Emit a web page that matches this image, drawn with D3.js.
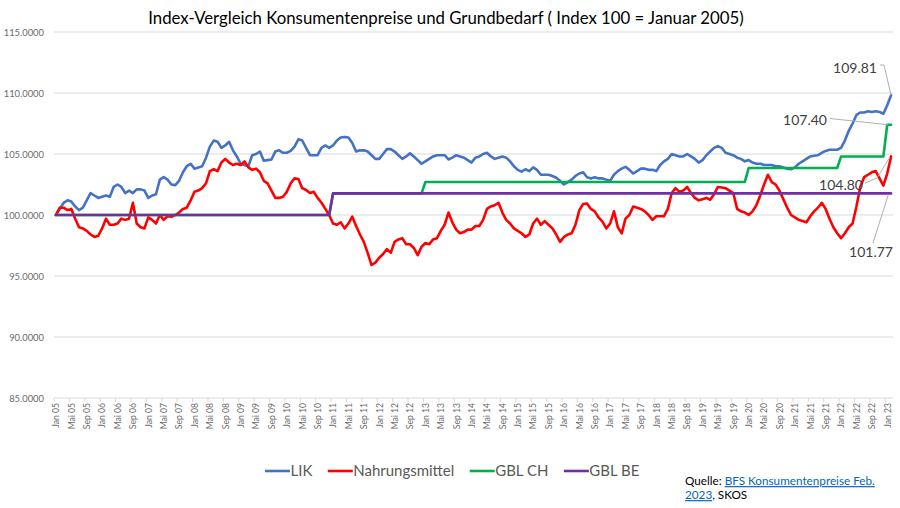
<!DOCTYPE html>
<html>
<head>
<meta charset="utf-8">
<script src="https://cdn.jsdelivr.net/npm/d3@7"></script>
<style>
  html, body { margin: 0; padding: 0; background: #fff; }
  svg { display: block; font-family: Lato, "Open Sans", sans-serif; }
</style>
</head>
<body>
<svg id="chart" width="900" height="508"></svg>
<script>
// ---------- DATA ----------
const monthNames = ["Jan","Feb","Mär","Apr","Mai","Jun","Jul","Aug","Sep","Okt","Nov","Dez"];
const years = [2005,2006,2007,2008,2009,2010,2011,2012,2013,2014,2015,2016,2017,2018,2019,2020,2021,2022,2023];
const lastMonthIndex2023 = 1; // data runs to Feb 2023

// Landesindex der Konsumentenpreise (Jan 2005 = 100), monthly Jan 05 – Feb 23
const lik = [
100.0,100.5,101.0,101.2,101.1,100.7,100.4,100.6,101.2,101.8,101.6,101.4,
101.5,101.6,101.5,102.3,102.5,102.3,101.8,102.0,101.8,102.1,102.1,102.0,
101.4,101.6,101.7,102.9,103.1,102.9,102.5,102.45,102.8,103.5,104.0,104.2,
103.8,103.9,104.0,104.7,105.6,106.1,106.0,105.5,105.7,106.0,105.3,104.8,
104.2,104.1,104.0,104.9,105.0,105.2,104.45,104.5,104.55,105.2,105.3,105.1,
105.1,105.25,105.6,106.2,106.1,105.5,104.9,104.9,104.9,105.5,105.7,105.5,
105.7,106.1,106.35,106.4,106.35,105.9,105.2,105.3,105.3,105.2,104.9,104.6,
104.6,105.0,105.4,105.4,105.2,104.9,104.6,104.8,105.05,104.8,104.5,104.2,
104.4,104.6,104.8,104.9,104.9,104.9,104.55,104.7,104.9,104.8,104.7,104.5,
104.3,104.7,104.8,105.0,105.1,104.8,104.6,104.7,104.8,104.7,104.4,104.0,
103.7,103.55,103.75,103.6,103.9,103.7,103.3,103.3,103.3,103.2,103.05,102.8,
102.5,102.7,102.9,103.2,103.4,103.5,103.1,103.0,103.1,103.0,103.0,102.9,
102.8,103.3,103.6,103.8,103.95,103.7,103.4,103.6,103.8,103.8,103.7,103.7,
103.6,104.1,104.4,104.6,105.0,104.9,104.8,104.8,105.0,104.8,104.6,104.3,
104.5,104.9,105.2,105.5,105.65,105.5,105.1,105.0,104.9,104.7,104.6,104.4,
104.5,104.3,104.2,104.2,104.1,104.1,104.1,104.0,104.0,103.9,103.8,103.75,
103.9,104.2,104.4,104.6,104.8,104.85,104.9,105.1,105.25,105.35,105.35,105.35,
105.5,106.1,106.9,107.5,108.2,108.4,108.4,108.5,108.45,108.5,108.45,108.3,
109.0,109.81
];

// Nahrungsmittel-Index (Jan 2005 = 100), monthly Jan 05 – Feb 23
const nahrungsmittel = [
100.0,100.6,100.6,100.4,100.5,99.7,99.0,98.9,98.7,98.4,98.2,98.3,
98.9,99.7,99.2,99.2,99.3,99.7,99.6,99.7,101.0,99.3,99.0,98.9,
99.8,99.6,99.3,100.0,99.6,99.9,99.85,100.0,100.2,100.5,100.6,101.2,
101.9,102.0,102.2,102.6,103.6,103.75,103.6,104.3,104.6,104.3,104.1,104.2,
104.1,104.4,103.9,103.7,103.8,103.5,102.8,102.6,102.0,101.4,101.4,101.5,
101.9,102.6,103.0,102.95,102.2,102.05,101.8,101.9,101.4,101.0,100.5,100.0,
99.3,99.2,99.4,98.9,99.3,99.86,99.1,98.4,97.8,96.9,95.9,96.1,
96.5,96.8,97.2,96.9,97.8,98.0,98.1,97.6,97.6,97.3,96.7,97.4,
97.7,97.6,98.0,98.1,98.7,99.2,100.2,99.4,98.8,98.5,98.6,98.8,
98.8,99.1,99.1,99.6,100.5,100.7,100.8,101.0,100.2,99.6,99.3,98.9,
98.7,98.5,98.2,98.4,99.3,99.7,99.2,99.5,99.2,98.9,98.4,97.8,
98.2,98.4,98.5,99.2,100.4,100.9,100.95,100.5,100.3,99.8,99.45,98.9,
99.3,100.3,99.0,98.5,99.7,100.0,100.7,100.6,100.5,100.3,100.0,99.6,
99.9,99.9,99.9,100.5,101.8,102.2,101.9,102.0,102.3,101.8,101.4,101.2,
101.3,101.4,101.25,101.7,102.3,102.25,102.2,102.0,101.8,100.5,100.3,100.2,
100.0,100.3,100.8,101.6,102.5,103.3,102.7,102.5,102.0,101.3,100.6,100.0,
99.8,99.6,99.5,99.4,99.9,100.3,100.6,101.0,100.5,99.7,99.0,98.5,
98.1,98.5,99.0,99.3,100.7,102.3,103.1,103.3,103.5,103.6,103.0,102.4,
103.4,104.8
];

// Grundbedarf für den Lebensunterhalt, indexed, one value per year (2005..2023)
const gblCH = [100,100,100,100,100,100,101.77,101.77,102.71,102.71,102.71,102.71,102.71,102.71,102.71,103.85,103.85,104.79,107.40];
const gblBE = [100,100,100,100,100,100,101.77,101.77,101.77,101.77,101.77,101.77,101.77,101.77,101.77,101.77,101.77,101.77,101.77];

const yTicks = [85,90,95,100,105,110,115];
const seriesNames = ["LIK","Nahrungsmittel","GBL CH","GBL BE"];
const endLabels = ["109.81","104.80","107.40","101.77"]; // same order as seriesNames
const seriesColors = ["#4472C4","#FF0000","#00B050","#7030A0"];

// ---------- BUILD CATEGORIES ----------
const categories = [];
const yearOfCat = [];
years.forEach((yr, yi) => {
  const nMonths = (yr === 2023) ? lastMonthIndex2023 + 1 : 12;
  for (let m = 0; m < nMonths; m++) {
    categories.push(monthNames[m] + " " + String(yr).slice(2));
    yearOfCat.push(yi);
  }
});
const gblCHMonthly = categories.map((c, i) => gblCH[yearOfCat[i]]);
const gblBEMonthly = categories.map((c, i) => gblBE[yearOfCat[i]]);
const seriesValues = [lik, nahrungsmittel, gblCHMonthly, gblBEMonthly];

// ---------- LAYOUT ----------
const svg = d3.select("#chart");
const plotL = 54, plotR = 893, plotT = 32, plotB = 398;

const xScale = d3.scalePoint().domain(categories).range([plotL, plotR]).padding(0.5);
const yScale = d3.scaleLinear().domain([85, 115]).range([plotB, plotT]);
const step = xScale.step();

function fitText(sel, target) {
  const node = sel.node();
  const fs = parseFloat(sel.attr("font-size"));
  const w = node.getComputedTextLength();
  if (w > 0) sel.attr("font-size", (fs * target / w).toFixed(2));
}

// Title
const title = svg.append("text")
  .attr("x", 446).attr("y", 24)
  .attr("text-anchor", "middle")
  .attr("font-size", 16).attr("fill", "#000")
  .text("Index-Vergleich Konsumentenpreise und Grundbedarf ( Index 100 = Januar 2005)");
fitText(title, 596);

// Gridlines
svg.append("g").selectAll("line")
  .data(yTicks)
  .join("line")
  .attr("x1", plotL).attr("x2", plotR)
  .attr("y1", d => yScale(d)).attr("y2", d => yScale(d))
  .attr("stroke", "#d9d9d9").attr("stroke-width", 1);

// Y axis labels
const yAxis = d3.axisLeft(yScale).tickValues(yTicks).tickFormat(d3.format(".4f")).tickSize(0).tickPadding(6);
const gy = svg.append("g").attr("transform", `translate(${plotL - 4},0)`).call(yAxis);
gy.select(".domain").remove();
gy.selectAll("text").attr("font-family", "Lato, sans-serif").attr("font-size", 9.4).attr("fill", "#6b6b6b");

// X axis
const xAxis = d3.axisBottom(xScale)
  .tickValues(categories.filter((c, i) => i % 4 === 0))
  .tickSize(0).tickPadding(0);
const gx = svg.append("g").attr("transform", `translate(0,${plotB})`).call(xAxis);
gx.select(".domain").remove();
gx.selectAll("text")
  .attr("font-family", "Lato, sans-serif").attr("font-size", 8.6).attr("fill", "#6b6b6b")
  .attr("transform", "rotate(-90)")
  .attr("text-anchor", "end")
  .attr("x", -5).attr("y", 0).attr("dy", "0.33em");
// small tick marks at category boundaries
svg.append("g").selectAll("line")
  .data(categories.filter((c, i) => i % 4 === 0))
  .join("line")
  .attr("x1", d => xScale(d) - step / 2).attr("x2", d => xScale(d) - step / 2)
  .attr("y1", plotB).attr("y2", plotB + 4)
  .attr("stroke", "#d9d9d9").attr("stroke-width", 1);

// Lines
const lineGen = d3.line()
  .x((d, i) => xScale(categories[i]))
  .y(d => yScale(d));
const lineG = svg.append("g");
seriesValues.forEach((vals, k) => {
  lineG.append("path")
    .datum(vals)
    .attr("d", lineGen)
    .attr("fill", "none")
    .attr("stroke", seriesColors[k])
    .attr("stroke-width", 2.6)
    .attr("stroke-linejoin", "round")
    .attr("stroke-linecap", "round");
});

// End labels with leader lines
const lastCat = categories[categories.length - 1];
const ex = xScale(lastCat);
const endVals = seriesValues.map(v => v[v.length - 1]);
const lblG = svg.append("g");
const lblSpecs = [
  { k: 0, tx: 877, ty: 68, pts: [[880, 65], [884, 65], [ex, yScale(endVals[0])]] },
  { k: 2, tx: 827, ty: 120, pts: [[830, 118.5], [ex - 3, yScale(endVals[2])]] },
  { k: 1, tx: 863, ty: 185, pts: [[865, 183], [877, 178], [ex - 2, yScale(endVals[1]) + 2]] },
  { k: 3, tx: 893, ty: 252, pts: [[873, 243], [ex - 3, yScale(endVals[3]) + 2]] }
];
lblSpecs.forEach(s => {
  lblG.append("path")
    .attr("d", d3.line()(s.pts))
    .attr("fill", "none").attr("stroke", "#a6a6a6").attr("stroke-width", 0.9);
  const t = lblG.append("text")
    .attr("x", s.tx).attr("y", s.ty).attr("dy", "0.35em")
    .attr("text-anchor", "end")
    .attr("font-size", 14).attr("fill", "#404040")
    .text(endLabels[s.k]);
  fitText(t, 44);
});

// Legend
const legend = svg.append("g");
let lx = 265;
const ly = 471;
const probe = svg.append("text").attr("font-size", 14.5).text("Nahrungsmittel");
fitText(probe, 101);
const legendFont = parseFloat(probe.attr("font-size"));
probe.remove();
seriesNames.forEach((name, k) => {
  legend.append("line")
    .attr("x1", lx).attr("x2", lx + 25)
    .attr("y1", ly).attr("y2", ly)
    .attr("stroke", seriesColors[k]).attr("stroke-width", 2.6);
  const t = legend.append("text")
    .attr("x", lx + 25.5).attr("y", ly).attr("dy", "0.35em")
    .attr("font-size", legendFont).attr("fill", "#595959")
    .text(name);
  lx = lx + 25.5 + t.node().getComputedTextLength() + 15.5;
});

// Source note
const src1 = svg.append("text").attr("x", 685).attr("y", 481).attr("dy", "0.35em").attr("font-size", 11);
src1.append("tspan").attr("fill", "#000").text("Quelle: ");
src1.append("tspan").attr("fill", "#0563C1").attr("text-decoration", "underline").text("BFS Konsumentenpreise Feb.");
fitText(src1, 190);
const srcFs = src1.attr("font-size");
const src2 = svg.append("text").attr("x", 685).attr("y", 495).attr("dy", "0.35em").attr("font-size", srcFs);
src2.append("tspan").attr("fill", "#0563C1").attr("text-decoration", "underline").text("2023");
src2.append("tspan").attr("fill", "#000").text(", SKOS");
</script>
</body>
</html>
